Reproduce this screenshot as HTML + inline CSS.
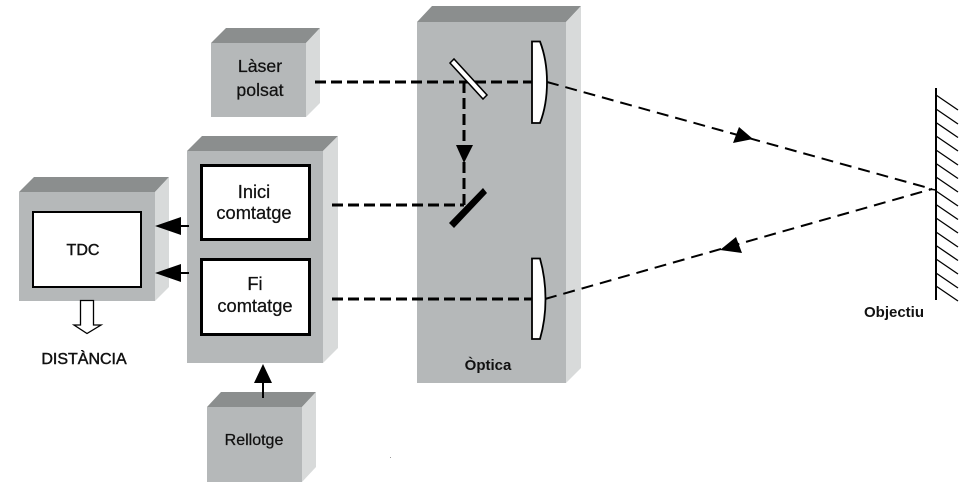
<!DOCTYPE html>
<html>
<head>
<meta charset="utf-8">
<style>
html,body{margin:0;padding:0;background:#fff;width:965px;height:487px;overflow:hidden}
svg{display:block}
text{font-family:"Liberation Sans",sans-serif;fill:#111;text-anchor:middle;stroke:#111;stroke-width:.25px}
.b{stroke-width:.45px}
.front{fill:#b5b8b9}
.top{fill:#8b8e8e}
.side{fill:#d8dada}
</style>
</head>
<body>
<svg width="965" height="487" viewBox="0 0 965 487" xmlns="http://www.w3.org/2000/svg">
<rect width="965" height="487" fill="#fff"/>

<!-- Laser box -->
<polygon class="top" points="211,43 226,28 320,28 306,43"/>
<polygon class="side" points="306,43 320,28 320,103 306,117"/>
<rect class="front" x="211" y="43" width="95" height="74"/>

<!-- Optics box -->
<polygon class="top" points="417,22 432,6 581,6 566,22"/>
<polygon class="side" points="566,22 581,6 581,368 566,383"/>
<rect class="front" x="417" y="22" width="149" height="361"/>

<!-- Counter box -->
<polygon class="top" points="187,151 202,136 338,136 323,151"/>
<polygon class="side" points="323,151 338,136 338,348 323,363"/>
<rect class="front" x="187" y="151" width="136" height="212"/>

<!-- TDC box -->
<polygon class="top" points="19,192 34,177 169,177 155,192"/>
<polygon class="side" points="155,192 169,177 169,287 155,301"/>
<rect class="front" x="19" y="192" width="136" height="109"/>

<!-- Clock box -->
<polygon class="top" points="207,407 221,392 316,392 302,407"/>
<polygon class="side" points="302,407 316,392 316,467 302,482"/>
<rect class="front" x="207" y="407" width="95" height="75"/>

<!-- Inner white boxes -->
<rect x="201.5" y="165.5" width="108" height="74" fill="#fff" stroke="#000" stroke-width="3"/>
<rect x="201.5" y="259.5" width="108" height="75" fill="#fff" stroke="#000" stroke-width="3"/>
<rect x="33" y="212" width="108" height="75" fill="#fff" stroke="#000" stroke-width="2"/>

<!-- Dashed beams -->
<g fill="none" stroke="#000" stroke-width="3">
<line x1="315" y1="82" x2="532" y2="82" stroke-dasharray="11 5"/>
<line x1="332" y1="205" x2="464" y2="205" stroke-dasharray="11 5"/>
<line x1="332" y1="299" x2="532" y2="299" stroke-dasharray="11 5"/>
<line x1="464" y1="82" x2="464" y2="205" stroke-dasharray="11 5"/>
</g>
<g fill="none" stroke="#000" stroke-width="2">
<line x1="547" y1="82" x2="932" y2="189" stroke-dasharray="12 7"/>
<line x1="545" y1="299" x2="932" y2="189" stroke-dasharray="12 7"/>
</g>

<!-- Mirrors -->
<polygon points="450,63 454,59 487,95 483,99" fill="#fff" stroke="#000" stroke-width="1.5"/>
<polygon points="449,223 454,228 487,193 483,188" fill="#000"/>

<!-- Lenses -->
<path d="M532 41.500 H540 Q547 60 547 82 Q547 105 540 123 H532 Z" fill="#fff" stroke="#000" stroke-width="1.800"/>
<path d="M532 258.500 H540 Q545.500 278 545.500 299 Q545.500 320 540 339 H532 Z" fill="#fff" stroke="#000" stroke-width="1.800"/>

<!-- Arrowheads -->
<polygon points="456,145 473,145 464,163" fill="#000"/>
<polygon points="753,139 733,143 739,127" fill="#000"/>
<polygon points="720,250 742,253 736,237" fill="#000"/>

<!-- Solid arrows -->
<line x1="180" y1="226" x2="189" y2="226" stroke="#000" stroke-width="2"/>
<polygon points="155,226 181,217 181,235" fill="#000"/>
<line x1="180" y1="273" x2="189" y2="273" stroke="#000" stroke-width="2"/>
<polygon points="155,273 181,264 181,282" fill="#000"/>
<line x1="263" y1="382" x2="263" y2="398" stroke="#000" stroke-width="2"/>
<polygon points="263,364 254,383 272,383" fill="#000"/>

<!-- Hollow arrow -->
<polygon points="80.500,300.500 93.500,300.500 93.500,325 101,325 87,333.500 74,325 80.500,325" fill="#fff" stroke="#000" stroke-width="1.300"/>

<!-- Target wall -->
<line x1="936" y1="88" x2="936" y2="300" stroke="#000" stroke-width="2"/>
<g stroke="#000" stroke-width="1.300">
<line x1="936" y1="95" x2="958" y2="110"/>
<line x1="936" y1="109" x2="958" y2="124"/>
<line x1="936" y1="122.500" x2="958" y2="137.500"/>
<line x1="936" y1="136" x2="958" y2="151"/>
<line x1="936" y1="150" x2="958" y2="165"/>
<line x1="936" y1="163.500" x2="958" y2="178.500"/>
<line x1="936" y1="177" x2="958" y2="192"/>
<line x1="936" y1="191" x2="958" y2="206"/>
<line x1="936" y1="204.500" x2="958" y2="219.500"/>
<line x1="936" y1="218" x2="958" y2="233"/>
<line x1="936" y1="232" x2="958" y2="247"/>
<line x1="936" y1="245.500" x2="958" y2="260.500"/>
<line x1="936" y1="259" x2="958" y2="274"/>
<line x1="936" y1="273" x2="958" y2="288"/>
<line x1="936" y1="286" x2="958" y2="301"/>
</g>
<line x1="929" y1="189" x2="936" y2="190" stroke="#000" stroke-width="1.500"/>

<rect x="390" y="457" width="1" height="1" fill="#999"/>

<!-- Labels -->
<text x="260" y="72" font-size="17.700">Làser</text>
<text x="260" y="96" font-size="17.700">polsat</text>
<text x="254" y="198" font-size="18.300">Inici</text>
<text x="254" y="219" font-size="18.300">comtatge</text>
<text x="255" y="290" font-size="18.300">Fi</text>
<text x="255" y="312" font-size="18.300">comtatge</text>
<text x="83" y="255" font-size="16" class="b">TDC</text>
<text x="84" y="364" font-size="16" class="b">DISTÀNCIA</text>
<text x="254" y="445" font-size="16">Rellotge</text>
<text x="488" y="370" font-size="15" font-weight="bold" style="stroke-width:0">Òptica</text>
<text x="894" y="317" font-size="15" font-weight="bold" style="stroke-width:0">Objectiu</text>
</svg>
</body>
</html>
